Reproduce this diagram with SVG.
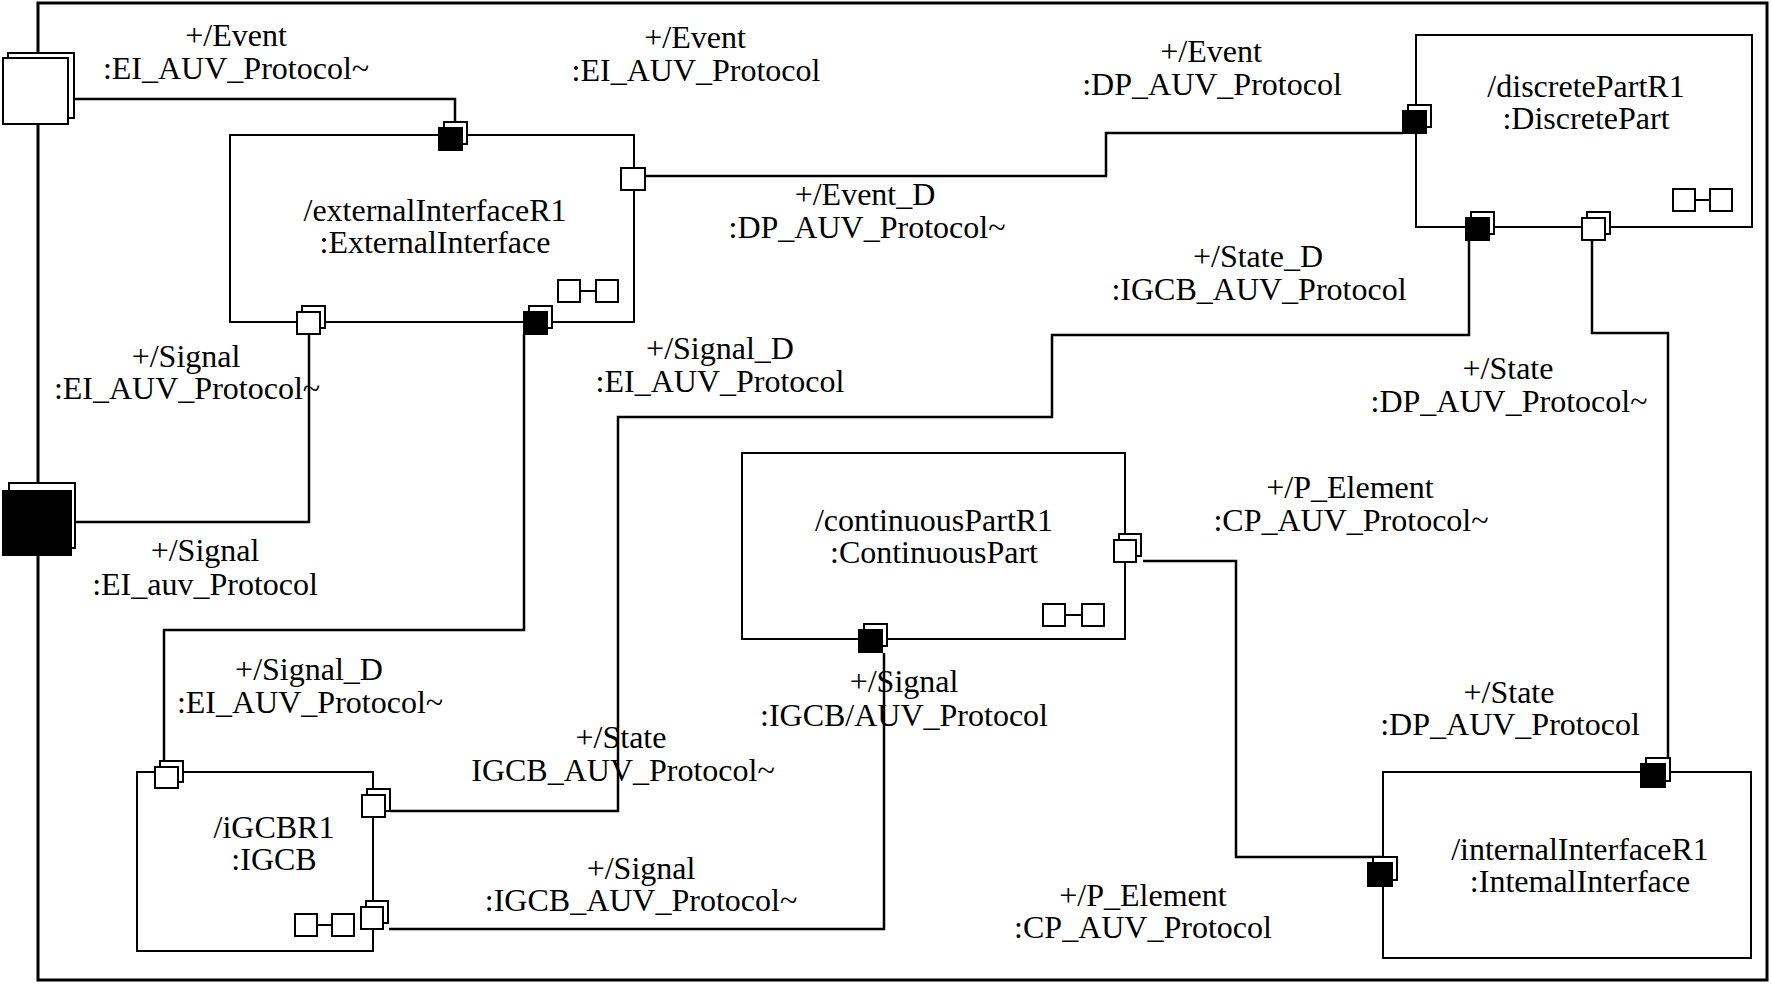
<svg xmlns="http://www.w3.org/2000/svg" width="1772" height="984" viewBox="0 0 1772 984">
<style>
.frame{fill:none;stroke:#000;stroke-width:3}
.box{fill:#fff;stroke:#000;stroke-width:2}
.conn{fill:none;stroke:#000;stroke-width:2.5}
.pb{fill:#fff;stroke:#000;stroke-width:2}
.pf{fill:#000;stroke:#000;stroke-width:2}
.ph{fill:#fff;stroke:#000;stroke-width:2}
.ic{fill:#fff;stroke:#000;stroke-width:2}
text{font-family:"Liberation Serif","Times New Roman",serif;font-size:32px;fill:#000;text-anchor:middle}
</style>
<rect x="0" y="0" width="1772" height="984" fill="#fff"/>
<rect class="frame" x="38" y="3" width="1729" height="977"/>

<g id="connectors">
<polyline class="conn" points="74,99 455,99 455,122"/>
<polyline class="conn" points="645,176 1106,176 1106,133 1403,133"/>
<polyline class="conn" points="1469,241 1469,335 1052,335 1052,417 618,417 618,811 390,811"/>
<polyline class="conn" points="524,334 524,630 164,630 164,761"/>
<polyline class="conn" points="309,334 309,522 75,522"/>
<polyline class="conn" points="1592,240 1592,333 1668,333 1668,758"/>
<polyline class="conn" points="1143,561 1236,561 1236,857 1396,857"/>
<polyline class="conn" points="389,929 884,929 884,653"/>
</g>

<g id="externalInterface">
<rect class="box" x="230" y="135" width="404" height="187"/>
<text x="435" y="221">/externalInterfaceR1</text>
<text x="435" y="253">:ExternalInterface</text>
<rect class="ic" x="558" y="280" width="22" height="22"/><rect class="ic" x="596" y="280" width="22" height="22"/><line x1="580" y1="291" x2="596" y2="291" stroke="#000" stroke-width="2"/>
<rect class="pb" x="444" y="122" width="23" height="22"/><rect class="pf" x="439" y="128" width="23" height="22"/>
<rect class="ph" x="621" y="168" width="24" height="22"/>
<rect class="pb" x="302" y="306" width="23" height="22"/><rect class="ph" x="297" y="312" width="23" height="22"/>
<rect class="pb" x="529" y="306" width="23" height="22"/><rect class="pf" x="524" y="312" width="23" height="22"/>
</g>

<g id="discretePart">
<rect class="box" x="1416" y="35" width="336" height="192"/>
<text x="1586" y="97">/discretePartR1</text>
<text x="1586" y="129">:DiscretePart</text>
<rect class="ic" x="1673" y="189" width="22" height="22"/><rect class="ic" x="1710" y="189" width="22" height="22"/><line x1="1695" y1="200" x2="1710" y2="200" stroke="#000" stroke-width="2"/>
<rect class="pb" x="1408" y="105" width="23" height="22"/><rect class="pf" x="1403" y="111" width="23" height="22"/>
<rect class="pb" x="1471" y="212" width="23" height="22"/><rect class="pf" x="1466" y="218" width="23" height="22"/>
<rect class="pb" x="1587" y="212" width="23" height="22"/><rect class="ph" x="1582" y="218" width="23" height="22"/>
</g>

<g id="continuousPart">
<rect class="box" x="742" y="453" width="383" height="186"/>
<text x="934" y="531">/continuousPartR1</text>
<text x="934" y="563">:ContinuousPart</text>
<rect class="ic" x="1043" y="604" width="22" height="22"/><rect class="ic" x="1082" y="604" width="22" height="22"/><line x1="1065" y1="615" x2="1082" y2="615" stroke="#000" stroke-width="2"/>
<rect class="pb" x="1119" y="534" width="22" height="22"/><rect class="ph" x="1114" y="540" width="22" height="22"/>
<rect class="pb" x="864" y="624" width="23" height="22"/><rect class="pf" x="859" y="630" width="23" height="22"/>
</g>

<g id="iGCB">
<rect class="box" x="137" y="772" width="236" height="179"/>
<text x="274" y="838">/iGCBR1</text>
<text x="274" y="870">:IGCB</text>
<rect class="ic" x="295" y="914" width="22" height="22"/><rect class="ic" x="332" y="914" width="22" height="22"/><line x1="317" y1="925" x2="332" y2="925" stroke="#000" stroke-width="2"/>
<rect class="pb" x="160" y="761" width="23" height="21"/><rect class="ph" x="155" y="767" width="23" height="21"/>
<rect class="pb" x="367" y="789" width="23" height="22"/><rect class="ph" x="362" y="795" width="23" height="22"/>
<rect class="pb" x="366" y="901" width="22" height="22"/><rect class="ph" x="361" y="907" width="22" height="22"/>
</g>

<g id="internalInterface">
<rect class="box" x="1383" y="772" width="368" height="186"/>
<text x="1580" y="860">/internalInterfaceR1</text>
<text x="1580" y="892">:IntemalInterface</text>
<rect class="pb" x="1646" y="758" width="24" height="23"/><rect class="pf" x="1641" y="764" width="24" height="23"/>
<rect class="pb" x="1373" y="857" width="24" height="23"/><rect class="pf" x="1368" y="863" width="24" height="23"/>
</g>

<g id="boundaryPorts">
<rect class="pb" x="8" y="53" width="66" height="65"/><rect class="ph" x="3" y="58" width="65" height="66"/>
<rect class="pb" x="9" y="483" width="66" height="65"/><rect class="pf" x="3" y="491" width="68" height="64"/>
</g>

<g id="labels">
<text x="236" y="46">+/Event</text><text x="236" y="79">:EI_AUV_Protocol~</text>
<text x="695" y="48">+/Event</text><text x="696" y="81">:EI_AUV_Protocol</text>
<text x="1211" y="62">+/Event</text><text x="1212" y="95">:DP_AUV_Protocol</text>
<text x="865" y="205">+/Event_D</text><text x="867" y="238">:DP_AUV_Protocol~</text>
<text x="1258" y="267">+/State_D</text><text x="1259" y="300">:IGCB_AUV_Protocol</text>
<text x="186" y="367">+/Signal</text><text x="187" y="399">:EI_AUV_Protocol~</text>
<text x="720" y="359">+/Signal_D</text><text x="720" y="392">:EI_AUV_Protocol</text>
<text x="205" y="561">+/Signal</text><text x="205" y="595">:EI_auv_Protocol</text>
<text x="1508" y="379">+/State</text><text x="1509" y="412">:DP_AUV_Protocol~</text>
<text x="1350" y="498">+/P_Element</text><text x="1351" y="531">:CP_AUV_Protocol~</text>
<text x="309" y="680">+/Signal_D</text><text x="310" y="713">:EI_AUV_Protocol~</text>
<text x="904" y="692">+/Signal</text><text x="904" y="726">:IGCB/AUV_Protocol</text>
<text x="621" y="748">+/State</text><text x="623" y="781">IGCB_AUV_Protocol~</text>
<text x="641" y="879">+/Signal</text><text x="641" y="911">:IGCB_AUV_Protocol~</text>
<text x="1509" y="703">+/State</text><text x="1510" y="735">:DP_AUV_Protocol</text>
<text x="1143" y="906">+/P_Element</text><text x="1143" y="938">:CP_AUV_Protocol</text>
</g>
</svg>
